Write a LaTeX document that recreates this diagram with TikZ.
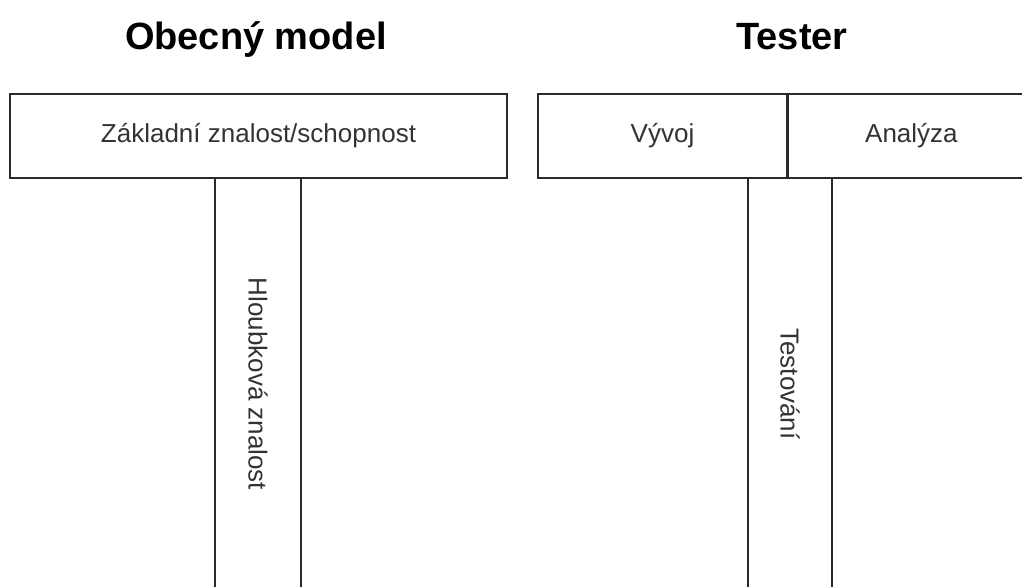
\documentclass[tikz,border=0pt]{standalone}
\usepackage{fontspec}
\setmainfont{Liberation Sans}
\definecolor{linegray}{HTML}{2A2A2A}
\definecolor{textgray}{HTML}{333333}
\begin{document}
\begin{tikzpicture}[x=1pt,y=-1pt,
  box/.style={draw=linegray, line width=1.4pt, fill=white, inner sep=0pt,
    font=\fontsize{26}{30}\selectfont, text=textgray},
  title/.style={anchor=base, inner sep=0pt, font=\bfseries\fontsize{38}{44}\selectfont}]
\useasboundingbox (0,0) rectangle (1022,586);
\clip (0,0) rectangle (1022,586);

% General model
\node[title] (t1) at (256,49) {Obecný model};
\node[box, rotate=-90, minimum width=412, minimum height=86] (deep) at (258,384) {Hloubková znalost};
\node[box, minimum width=497, minimum height=84] (base) at (258.5,136) {Základní znalost/schopnost};

% Tester
\node[title] (t2) at (792,49) {Tester};
\node[box, rotate=-90, minimum width=412, minimum height=84] (test) at (790,384) {Testování};
\node[box, minimum width=249, minimum height=84] (dev) at (662.5,136) {Vývoj};
\node[box, minimum width=246, minimum height=84, anchor=west] (ana) at (dev.east) {Analýza};
\end{tikzpicture}
\end{document}
